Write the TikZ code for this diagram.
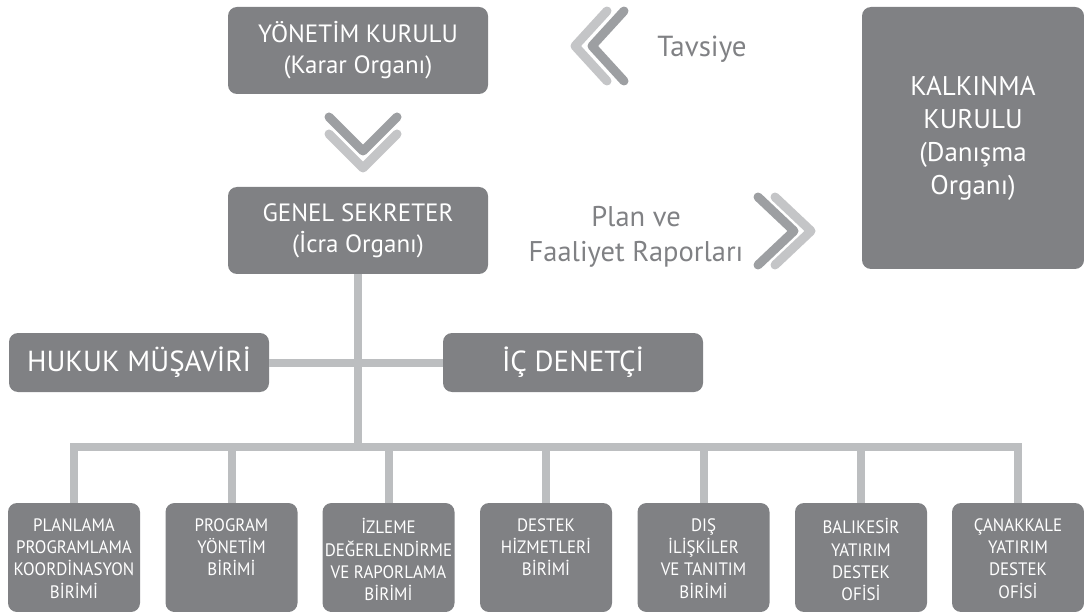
\documentclass[tikz,border=0pt]{standalone}
\usepackage{fontspec}
\setmainfont{PT Sans}
\newfontfamily\unitfont{PT Sans}[FakeStretch=0.94]
\definecolor{boxgray}{HTML}{808184}
\definecolor{linegray}{HTML}{BCBEC0}
\definecolor{chevdark}{HTML}{9D9FA2}
\definecolor{chevlight}{HTML}{C4C5C7}
\begin{document}
\begin{tikzpicture}[x=1pt, y=-1pt,
    orgbox/.style={fill=boxgray, rounded corners=9pt, text=white, align=center, inner sep=0pt},
    unitbox/.style={orgbox, minimum width=132pt, minimum height=109pt, font=\unitfont\fontsize{18}{22.3}\selectfont},
    link/.style={linegray, line width=8pt},
    chev/.style={line width=9pt, line cap=round, line join=round}]

    \useasboundingbox (0,0) rectangle (1084,612);

    % top boxes
    \node[orgbox, minimum width=260pt, minimum height=87pt, font=\fontsize{25}{31}\selectfont] (yk) at (358,50.5) {YÖNETİM KURULU\\(Karar Organı)};
    \node[orgbox, minimum width=260pt, minimum height=87pt, font=\fontsize{25}{31}\selectfont] (gs) at (358,230.5) {GENEL SEKRETER\\(İcra Organı)};
    \node[orgbox, minimum width=222pt, minimum height=262pt, font=\fontsize{27}{33}\selectfont] (kk) at (973,138) {KALKINMA\\KURULU\\(Danışma\\Organı)};

    \node[orgbox, minimum width=260pt, minimum height=59pt, font=\fontsize{29}{35}\selectfont] (hm) at (139,362.5) {HUKUK MÜŞAVİRİ};
    \node[orgbox, minimum width=260pt, minimum height=59pt, font=\fontsize{29}{35}\selectfont] (id) at (573,362.5) {İÇ DENETÇİ};

    % texts
    \node[text=boxgray, font=\fontsize{29}{34}\selectfont] (tav) at (702,49) {Tavsiye};
    \node[text=boxgray, align=center, font=\fontsize{28.5}{35}\selectfont] (plan) at (636,237) {Plan ve\\Faaliyet Raporları};

    % chevrons
    \draw[chev, chevdark] (329,117) -- (363,151) -- (397,117);
    \draw[chev, chevlight] (329,134) -- (363,168) -- (397,134);

    \draw[chev, chevlight] (607,11) -- (575,46) -- (607,81);
    \draw[chev, chevdark] (624,11) -- (592,46) -- (624,81);

    \draw[chev, chevdark] (758,197) -- (794,231) -- (758,265);
    \draw[chev, chevlight] (775,197) -- (811,231) -- (775,265);

    % units
    \foreach \n/\x/\t in {u1/74/{PLANLAMA\\PROGRAMLAMA\\KOORDİNASYON\\BİRİMİ},
                          u2/231.5/{PROGRAM\\YÖNETİM\\BİRİMİ},
                          u3/388.5/{İZLEME\\DEĞERLENDİRME\\VE RAPORLAMA\\BİRİMİ},
                          u4/546/{DESTEK\\HİZMETLERİ\\BİRİMİ},
                          u5/703.5/{DIŞ\\İLİŞKİLER\\VE TANITIM\\BİRİMİ},
                          u6/861/{BALIKESİR\\YATIRIM\\DESTEK\\OFİSİ},
                          u7/1018/{ÇANAKKALE\\YATIRIM\\DESTEK\\OFİSİ}}
        \node[unitbox] (\n) at (\x,557.5) {\parbox[t][78pt][t]{130pt}{\centering \t}};

    % connectors
    \coordinate (bus) at (358,447);
    \draw[link] (gs.south) -- (bus);
    \draw[link] (hm.east) -- (id.west);
    \draw[link] (u1.north) |- (bus) -| (u7.north);
    \foreach \n in {u2,u3,u4,u5,u6}
        \draw[link] (\n.north) -- (\n.north |- bus);
\end{tikzpicture}
\end{document}
